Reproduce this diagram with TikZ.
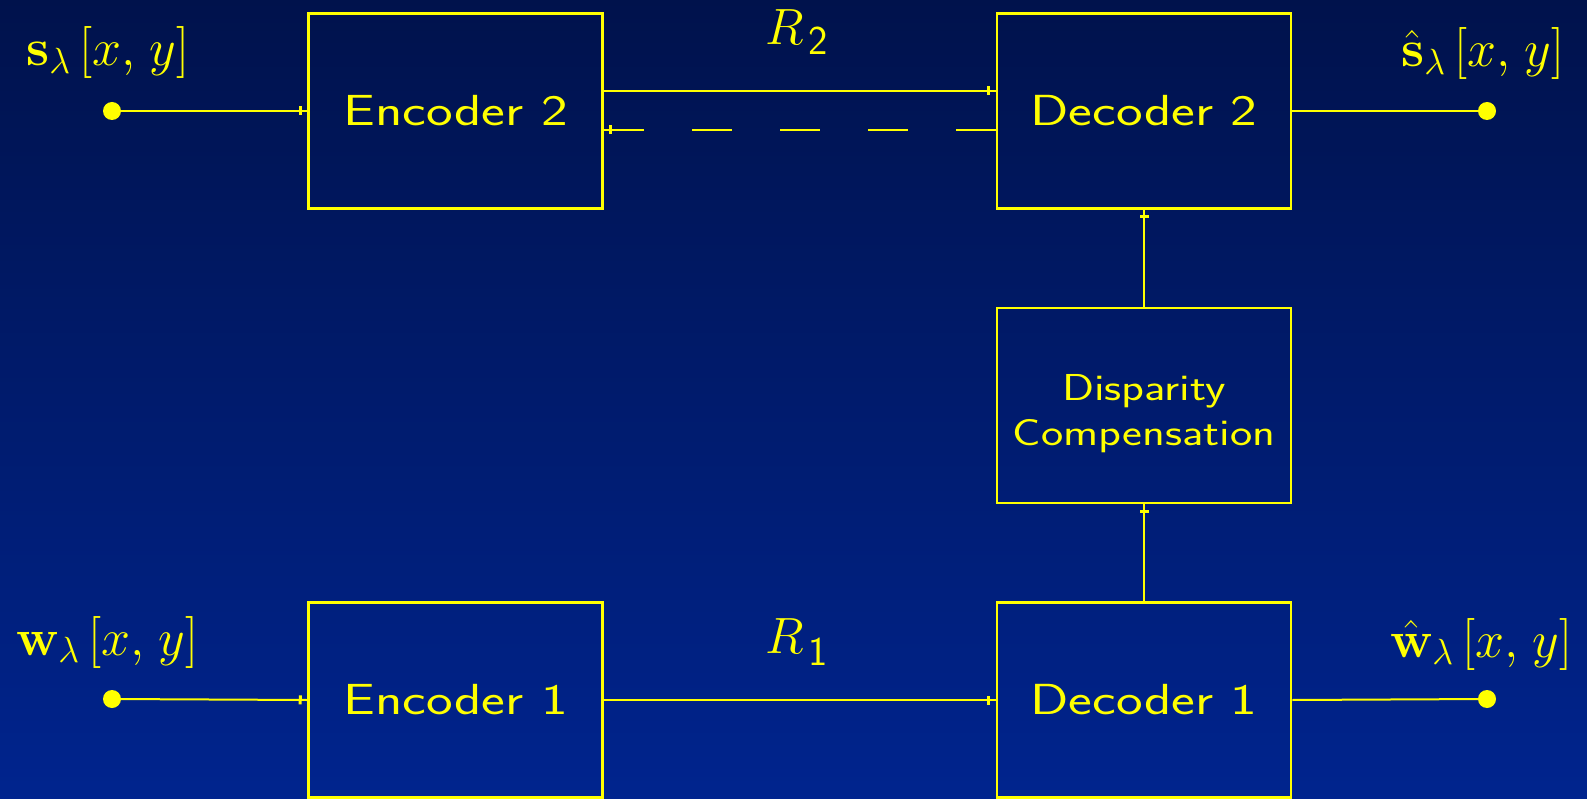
\RequirePackage{fix-cm}
\documentclass[tikz,border=0pt]{standalone}
\usetikzlibrary{decorations.markings}
\definecolor{bgtop}{RGB}{0,18,76}
\definecolor{bgbot}{RGB}{0,36,142}
\definecolor{ylw}{RGB}{255,255,0}
\newcommand\stretchtext[2]{\scalebox{#1}[1]{#2}}
\begin{document}
\begin{tikzpicture}[x=1pt,y=-1pt,
  box/.style={draw=ylw,line width=2.5pt,minimum width=294pt,minimum height=195pt,inner sep=0pt,
    text=ylw,font=\fontsize{43.5}{45}\selectfont\sffamily},
  dbox/.style={box,font=\fontsize{37.5}{44.5}\selectfont\sffamily},
  conn/.style={draw=ylw,line width=2pt,
    decoration={markings,mark=at position -7pt with {\fill[ylw] (-1.5pt,-4.5pt) rectangle (1.5pt,4.5pt);}},
    postaction={decorate}},
  plain/.style={draw=ylw,line width=2pt},
  dot/.style={circle,fill=ylw,minimum size=18pt,inner sep=0pt},
  lbl/.style={text=ylw,anchor=base west,inner sep=0pt,font=\fontsize{52}{54}\selectfont},
  rlbl/.style={text=ylw,anchor=base west,inner sep=0pt,font=\fontsize{51}{53}\selectfont}]
\shade[top color=bgtop,bottom color=bgbot] (0,0) rectangle (1587,799);
\useasboundingbox (0,0) rectangle (1587,799);
% boxes
\node[box] (enc2) at (455.5,111) {\stretchtext{1.3}{Encoder 2}};
\node[box] (dec2) at (1144,111) {\stretchtext{1.3}{Decoder 2}};
\node[dbox] (disp) at (1144,405.5) {\raisebox{-18pt}[0pt][0pt]{\begin{tabular}{@{}c@{}}\stretchtext{1.26}{Disparity}\\\stretchtext{1.26}{Compensation}\end{tabular}}};
\node[box] (enc1) at (455.5,700) {\stretchtext{1.3}{Encoder 1}};
\node[box] (dec1) at (1144,700) {\stretchtext{1.3}{Decoder 1}};
% terminals
\coordinate (sin) at (112,111);
\coordinate (sout) at (1487,111);
\coordinate (win) at (112,699);
\coordinate (wout) at (1487,699);
% labels
\node[lbl] (ls) at (26,66) {$\mathbf{s}_{\lambda}\,[x,\mkern2mu y]$};
\node[lbl] (lsh) at (1401,67) {$\hat{\mathbf{s}}_{\lambda}\,[x,\mkern2mu y]$};
\node[lbl] (lw) at (16,655) {$\mathbf{w}_{\lambda}\,[x,\mkern2mu y]$};
\node[lbl] (lwh) at (1390,657) {$\hat{\mathbf{w}}_{\lambda}\,[x,\mkern2mu y]$};
\node[rlbl] (r2) at (765,45) {$R$\kern5pt\raisebox{-10pt}{\fontsize{41}{43}\selectfont\sffamily 2}};
\node[rlbl] (r1) at (765,653) {$R$\kern5pt\raisebox{-12pt}{\fontsize{41}{43}\selectfont\sffamily 1}};
% connectors
\draw[conn] (sin) -- (enc2.west);
\draw[conn] (win) -- (enc1.west);
\draw[plain] (dec2.east) -- (sout);
\draw[plain] (dec1.east) -- (wout);
\draw[conn] ([yshift=20pt]enc2.east) -- ([yshift=20pt]dec2.west);
\draw[conn,dash pattern=on 40pt off 48pt] ([yshift=-19pt]dec2.west) -- ([yshift=-19pt]enc2.east);
\draw[conn] (enc1.east) -- (dec1.west);
\draw[conn] (dec1.north) -- (disp.south);
\draw[conn] (disp.north) -- (dec2.south);
\node[dot] (dsin) at (sin) {};
\node[dot] (dwin) at (win) {};
\node[dot] (dsout) at (sout) {};
\node[dot] (dwout) at (wout) {};
\end{tikzpicture}
\end{document}
